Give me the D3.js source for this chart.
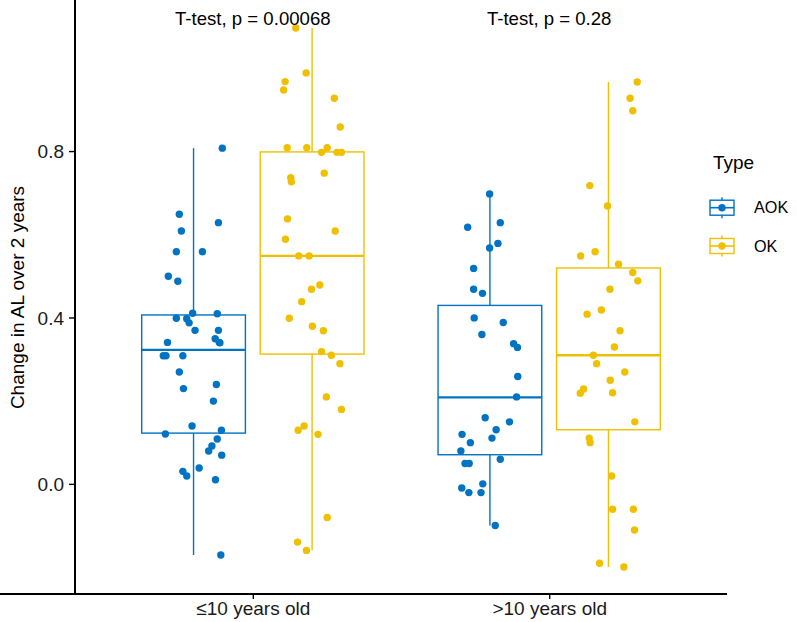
<!DOCTYPE html>
<html><head><meta charset="utf-8">
<script src="https://cdn.jsdelivr.net/npm/d3@7"></script>
<style>body{margin:0;background:#fff}svg{display:block}text{font-family:"Liberation Sans",Arial,sans-serif}</style>
</head><body><svg id="c" width="797" height="622"></svg>
<script>
const categories = ["≤10 years old", ">10 years old"];
const types = ["AOK", "OK"];
const colors = ["#0073C2", "#EFC000"];
const yTicks = [0.0, 0.4, 0.8];
const pLabels = ["T-test, p = 0.00068", "T-test, p = 0.28"];
const yLabel = "Change in AL over 2 years";
const legendTitle = "Type";

// box stats [category][type]
const boxQ1 = [[0.122, 0.312], [0.070, 0.130]];
const boxMed = [[0.322, 0.548], [0.208, 0.309]];
const boxQ3 = [[0.406, 0.798], [0.429, 0.519]];

// points: values and horizontal jitter (category units)
const g1AokVal = [0.807,0.648,0.628,0.608,0.558,0.558,0.499,0.487,0.410,0.409,0.398,0.397,0.387,0.369,0.369,0.349,0.340,0.340,0.308,0.308,0.308,0.269,0.229,0.239,0.199,0.139,0.129,0.120,0.108,0.091,0.079,0.069,0.038,0.030,0.019,0.010,-0.171,0.339];
const g1AokJit = [0.097,-0.048,0.084,-0.041,-0.058,0.030,-0.085,-0.053,-0.003,0.080,-0.058,-0.023,-0.015,0.005,0.084,0.073,0.087,-0.088,-0.102,-0.093,-0.036,-0.048,-0.034,0.077,0.067,-0.005,0.094,-0.095,0.080,0.062,0.051,0.095,0.019,-0.036,-0.023,0.074,0.092,0.089];
const g1OkVal = [1.096,0.988,0.967,0.947,0.927,0.858,0.808,0.808,0.808,0.797,0.797,0.797,0.747,0.736,0.726,0.637,0.608,0.588,0.548,0.548,0.478,0.468,0.438,0.398,0.379,0.368,0.318,0.309,0.289,0.209,0.179,0.139,0.129,0.119,-0.081,-0.140,-0.160];
const g1OkJit = [-0.055,-0.020,-0.091,-0.096,0.075,0.095,-0.084,-0.018,0.051,0.032,0.084,0.099,0.041,-0.072,-0.070,-0.083,0.078,-0.090,-0.045,-0.010,0.026,-0.002,-0.035,-0.077,0.001,0.038,0.032,0.065,0.094,0.048,0.099,-0.027,-0.047,0.020,0.051,-0.049,-0.019];
const g2AokVal = [0.697,0.617,0.628,0.578,0.567,0.518,0.468,0.458,0.399,0.388,0.359,0.337,0.328,0.258,0.209,0.159,0.149,0.130,0.119,0.110,0.099,0.079,0.059,0.049,0.049,0.000,-0.010,-0.021,-0.021,-0.100];
const g2AokJit = [-0.001,-0.075,0.035,0.027,-0.001,-0.055,-0.055,-0.025,-0.053,0.045,-0.027,0.080,0.093,0.094,0.090,-0.016,0.066,0.021,-0.094,0.007,-0.066,-0.098,0.035,-0.084,-0.070,-0.024,-0.095,-0.071,-0.030,0.018];
const g2OkVal = [0.966,0.927,0.897,0.717,0.668,0.558,0.548,0.528,0.508,0.488,0.468,0.418,0.408,0.368,0.329,0.309,0.289,0.269,0.249,0.228,0.218,0.219,0.149,0.110,0.099,0.019,-0.061,-0.061,-0.111,-0.191,-0.200];
const g2OkJit = [0.097,0.073,0.082,-0.063,-0.003,-0.045,-0.094,0.034,0.082,0.099,0.005,-0.024,-0.072,0.039,0.020,-0.051,-0.040,0.055,0.006,-0.084,-0.095,0.014,0.089,-0.065,-0.062,0.011,0.014,0.084,0.088,-0.030,0.052];

const pointVals = [[g1AokVal, g1OkVal], [g2AokVal, g2OkVal]];
const pointJits = [[g1AokJit, g1OkJit], [g2AokJit, g2OkJit]];

const dodge = 0.2, boxW = 0.35;
const svg = d3.select("#c");
const L = 75, R = 727, T = 1, B = 594;
const x = d3.scaleLinear().domain([0.4, 2.6]).range([L, R]);
const y = d3.scaleLinear().domain([-0.2648, 1.1608]).range([B, T]);

// boxes
categories.forEach((cat, ci) => {
  types.forEach((t, ti) => {
    const cx = ci + 1 + (ti === 0 ? -dodge : dodge);
    const vals = pointVals[ci][ti];
    const lo = d3.min(vals), hi = d3.max(vals);
    const g = svg.append("g");
    const col = colors[ti];
    g.append("line").attr("x1", x(cx)).attr("x2", x(cx)).attr("y1", y(hi)).attr("y2", y(boxQ3[ci][ti]))
      .attr("stroke", col).attr("stroke-width", 1.4);
    g.append("line").attr("x1", x(cx)).attr("x2", x(cx)).attr("y1", y(boxQ1[ci][ti])).attr("y2", y(lo))
      .attr("stroke", col).attr("stroke-width", 1.4);
    g.append("rect").attr("x", x(cx - boxW / 2)).attr("width", x(cx + boxW / 2) - x(cx - boxW / 2))
      .attr("y", y(boxQ3[ci][ti])).attr("height", y(boxQ1[ci][ti]) - y(boxQ3[ci][ti]))
      .attr("fill", "none").attr("stroke", col).attr("stroke-width", 1.4);
    g.append("line").attr("x1", x(cx - boxW / 2)).attr("x2", x(cx + boxW / 2))
      .attr("y1", y(boxMed[ci][ti])).attr("y2", y(boxMed[ci][ti]))
      .attr("stroke", col).attr("stroke-width", 2.4);
  });
});
// points
categories.forEach((cat, ci) => {
  types.forEach((t, ti) => {
    const cx = ci + 1 + (ti === 0 ? -dodge : dodge);
    const vals = pointVals[ci][ti], jits = pointJits[ci][ti];
    svg.append("g").selectAll("circle").data(vals).join("circle")
      .attr("cx", (d, i) => x(cx + jits[i])).attr("cy", d => y(d)).attr("r", 3.7)
      .attr("fill", colors[ti]);
  });
});

// axes
const yAxis = svg.append("g").attr("transform", `translate(${L},0)`)
  .call(d3.axisLeft(y).tickValues(yTicks).tickFormat(d3.format(".1f")).tickSize(6).tickSizeOuter(0));
const xAxis = svg.append("g").attr("transform", `translate(0,${B})`)
  .call(d3.axisBottom(x).tickValues([1, 2]).tickFormat((d) => categories[d - 1]).tickSize(5).tickSizeOuter(0));
[yAxis, xAxis].forEach(a => {
  a.select(".domain").attr("stroke", "#000").attr("stroke-width", 2);
  a.selectAll(".tick line").attr("stroke", "#000").attr("stroke-width", 1.4);
  a.selectAll(".tick text").attr("fill", "#1a1a1a").style("font-size", "19px")
    .style("font-family", '"Liberation Sans",Arial,sans-serif');
});
yAxis.select(".domain").attr("d", `M0,${B}V0`);
xAxis.select(".domain").attr("d", `M0,0H${R}`);
yAxis.selectAll(".tick text").attr("x", -11).attr("dy", "0.35em");
xAxis.selectAll(".tick text").attr("y", 8).attr("dy", "0.71em");

// y label
svg.append("text").attr("transform", `translate(24,${(T + B) / 2}) rotate(-90)`)
  .attr("text-anchor", "middle").style("font-size", "19px").attr("fill", "#000").text(yLabel);

// p-value labels
pLabels.forEach((p, i) => {
  svg.append("text").attr("x", x(i + 1)).attr("y", 24.5).attr("text-anchor", "middle")
    .style("font-size", "18.6px").attr("fill", "#000").text(p);
});

// legend
const lg = svg.append("g");
lg.append("text").attr("x", 713).attr("y", 169).style("font-size", "19px").attr("fill", "#000").text(legendTitle);
types.forEach((t, i) => {
  const cy = 207.7 + i * 38.3, kx = 722;
  const k = lg.append("g");
  k.append("line").attr("x1", kx).attr("x2", kx).attr("y1", cy - 10.5).attr("y2", cy + 10.5)
    .attr("stroke", colors[i]).attr("stroke-width", 1.4);
  k.append("rect").attr("x", kx - 12).attr("y", cy - 7.5).attr("width", 24).attr("height", 15)
    .attr("fill", "#fff").attr("stroke", colors[i]).attr("stroke-width", 1.4);
  k.append("line").attr("x1", kx - 12).attr("x2", kx + 12).attr("y1", cy).attr("y2", cy)
    .attr("stroke", colors[i]).attr("stroke-width", 1.6);
  k.append("circle").attr("cx", kx).attr("cy", cy).attr("r", 3.7).attr("fill", colors[i]);
  lg.append("text").attr("x", 754).attr("y", cy + 5.5).style("font-size", "16.2px").attr("fill", "#000").text(t);
});
</script></body></html>
